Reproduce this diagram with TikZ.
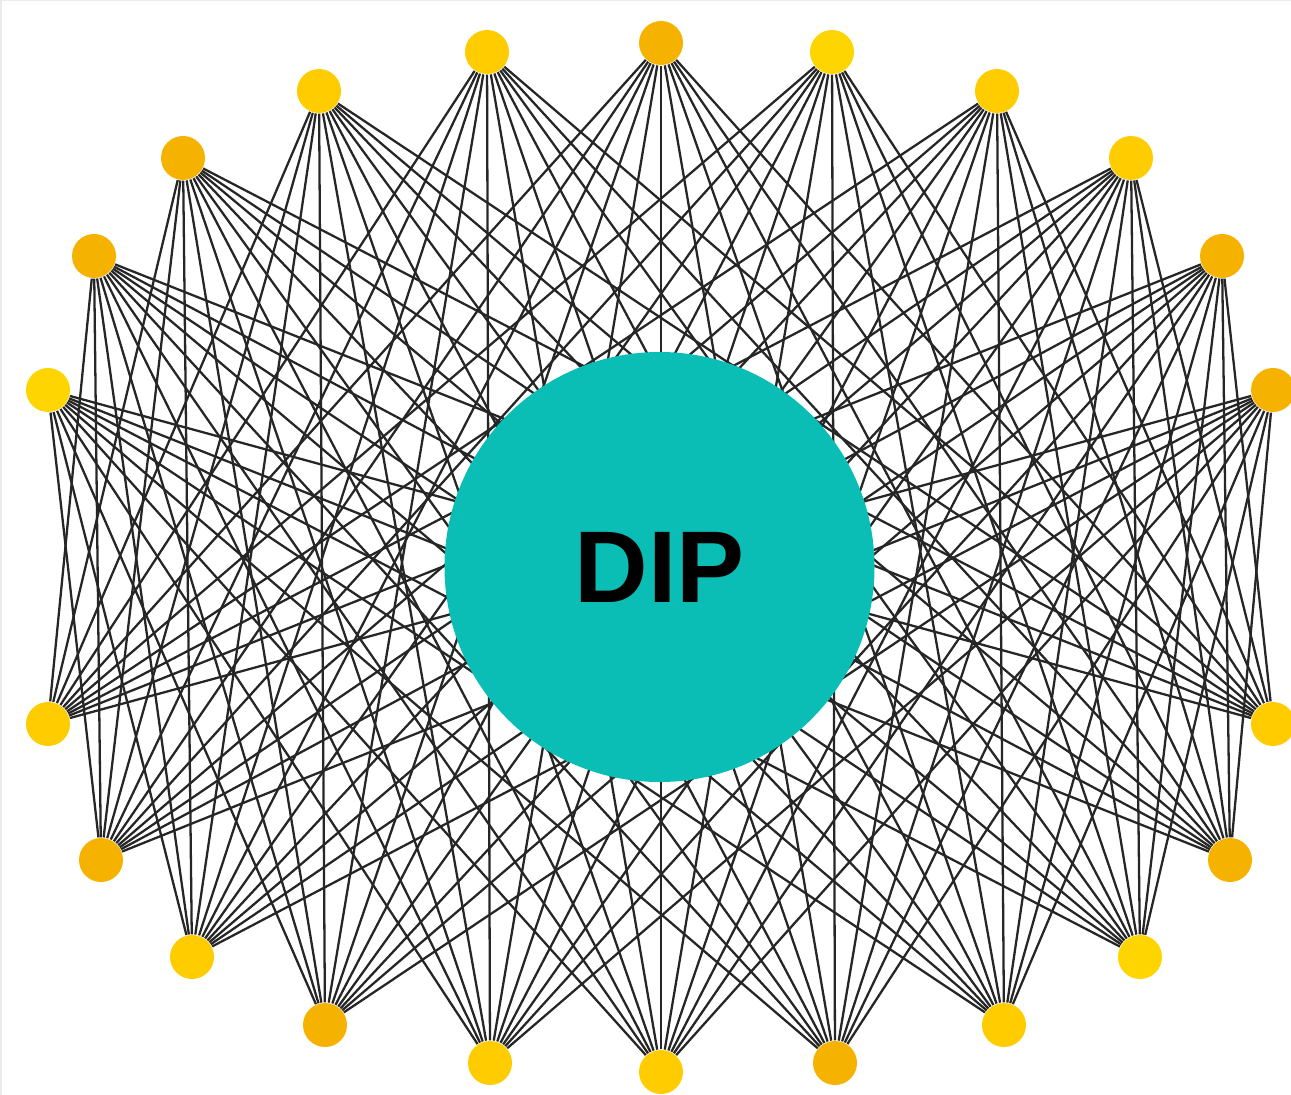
\documentclass[tikz,border=0pt]{standalone}
\usepackage{fontspec}
\setmainfont{Liberation Sans}
\usetikzlibrary{positioning}
\definecolor{dip}{HTML}{0ABDB5}
\definecolor{gold}{HTML}{FFCC00}
\definecolor{amber}{HTML}{F5B300}
\definecolor{lemon}{HTML}{FFD500}

\begin{document}
\begin{tikzpicture}[x=1cm,y=-1cm,
    vertex/.style={circle,fill=#1,inner sep=0pt,minimum size=4.4mm},
    link/.style={black!85,line width=0.65pt}]
    \useasboundingbox (0,0) rectangle (12.91,10.95);
    \draw[black!8,line width=0.3mm] (0,10.95) -- (0,0) -- (12.91,0);

    % ring of vertices, clockwise from the top
    \foreach \n/\x/\y/\c in {0/6.61/0.43/amber, 1/8.32/0.52/lemon, 2/9.97/0.91/gold,
        3/11.31/1.58/gold, 4/12.22/2.56/amber, 5/12.73/3.90/amber,
        6/12.73/7.24/gold, 7/12.30/8.60/amber, 8/11.40/9.57/lemon,
        9/10.04/10.25/gold, 10/8.35/10.63/amber, 11/6.61/10.72/gold,
        12/4.90/10.63/gold, 13/3.25/10.25/amber, 14/1.92/9.57/gold,
        15/1.01/8.60/amber, 16/0.48/7.24/gold, 17/0.48/3.90/lemon,
        18/0.94/2.56/amber, 19/1.83/1.58/amber, 20/3.19/0.91/gold,
        21/4.87/0.52/gold}
      \node[vertex=\c] (v\n) at (\x,\y) {};

    % upper half to lower half
    \foreach \a in {18,19,20,21,0,1,2,3,4}
      \foreach \b in {6,...,16}
        \draw[link] (v\a) -- (v\b);
    \foreach \b in {6,...,15}
      \draw[link] (v17) -- (v\b);
    \foreach \b in {7,...,16}
      \draw[link] (v5) -- (v\b);

    \node[circle,fill=dip,inner sep=0pt,minimum size=43mm] (dip) at (6.595,5.67)
      {\fontsize{29}{32}\selectfont\bfseries DIP};
\end{tikzpicture}
\end{document}
